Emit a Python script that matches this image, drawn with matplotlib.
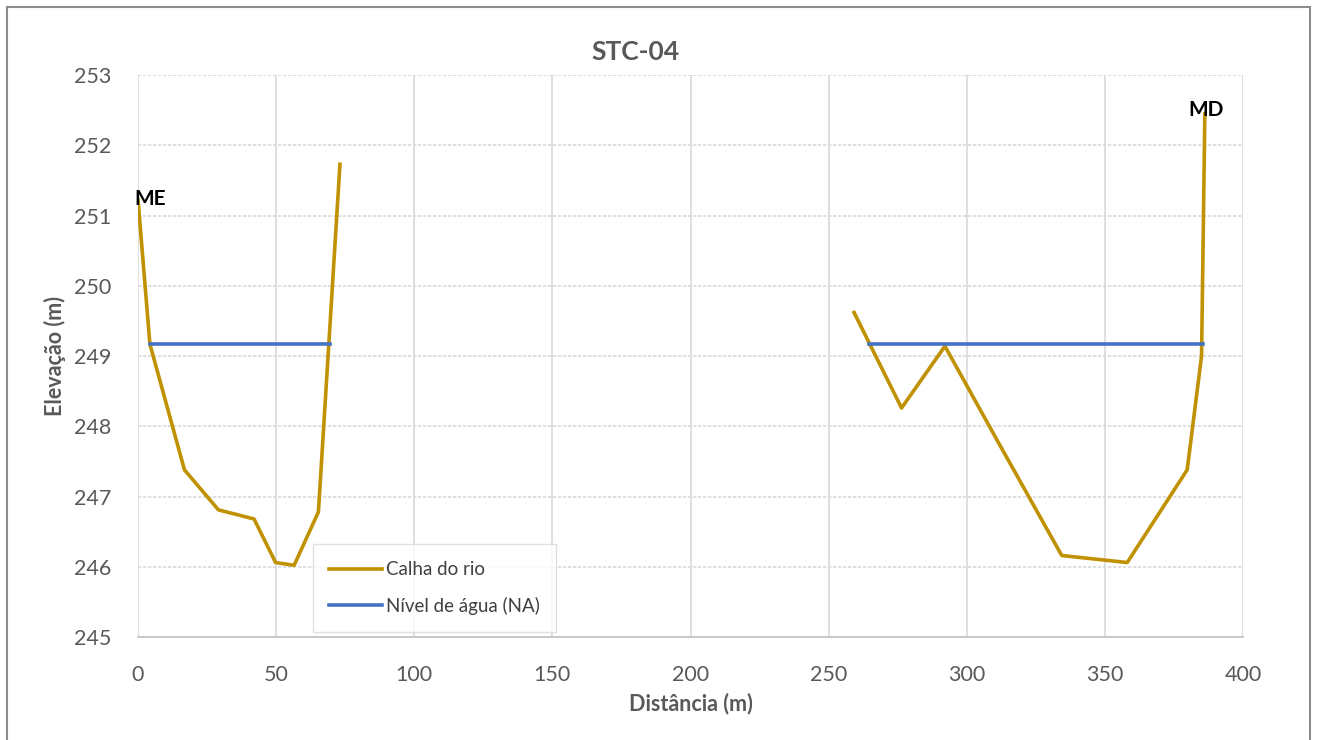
import matplotlib.pyplot as plt
from matplotlib.patches import Rectangle

# seção STC-04: margem esquerda e margem direita
dist_me = [0, 4.3, 16.8, 29.1, 42.0, 49.8, 56.5, 65.3, 73.1]
elev_me = [251.22, 249.17, 247.38, 246.81, 246.68, 246.06, 246.02, 246.78, 251.73]
dist_md = [259.2, 276.4, 292.1, 312.0, 334.4, 358.1, 379.8, 385.0, 386.2]
elev_md = [249.62, 248.26, 249.14, 247.73, 246.16, 246.06, 247.38, 249.0, 252.45]

na_level = 249.17
na_me = [4.3, 69.5]
na_md = [264.7, 385.6]

grey = '#595959'
plt.rcParams['font.family'] = ['Lato', 'DejaVu Sans']

fig = plt.figure(figsize=(13.17, 7.40), dpi=100)
ax = fig.add_axes([0.1048, 0.1392, 0.839, 0.7594])

ax.plot(dist_me, elev_me, color='#c09100', lw=2.6, label='Calha do rio', zorder=3)
ax.plot(dist_md, elev_md, color='#c09100', lw=2.6, zorder=3)
ax.plot(na_me, [na_level, na_level], color='#4472c4', lw=2.6, label='Nível de água (NA)', zorder=3)
ax.plot(na_md, [na_level, na_level], color='#4472c4', lw=2.6, zorder=3)

ax.text(-1.2, 251.24, 'ME', fontsize=15, fontweight='bold', color='black', va='center', ha='left')
ax.text(386.5, 252.5, 'MD', fontsize=15, fontweight='bold', color='black', va='center', ha='center')

ax.set_xlim(0, 400)
ax.set_ylim(245, 253)
ax.set_xticks(range(0, 401, 50))
ax.set_yticks(range(245, 254))

for x in range(0, 401, 50):
    ax.axvline(x, color='#d9d9d9', lw=1.2, zorder=1)
for y in range(246, 254):
    ax.axhline(y, color='#d9d9d9', lw=1.2, ls=(0, (2, 1)), zorder=1)

for s in ['top', 'right', 'left']:
    ax.spines[s].set_visible(False)
ax.spines['bottom'].set_color('#bfbfbf')
ax.spines['bottom'].set_linewidth(1.2)
ax.tick_params(length=0, labelsize=15.5, labelcolor=grey)
ax.tick_params(axis='x', pad=20)
ax.tick_params(axis='y', pad=19)

fig.text(635 / 1317, 1 - 52 / 740, 'STC-04', fontsize=19, fontweight='bold', color=grey,
         ha='center', va='center')
ax.set_xlabel('Distância (m)', fontsize=15.5, fontweight='bold', color=grey, labelpad=6)
ax.set_ylabel('Elevação (m)', fontsize=15.5, fontweight='bold', color=grey, labelpad=6)

leg = ax.legend(loc='lower left', bbox_to_anchor=(0.158, 0.009), borderaxespad=0,
                fontsize=13.5, frameon=True, fancybox=False, handlelength=2.8,
                borderpad=0.9, labelspacing=1.0, handletextpad=0.2)
leg.get_frame().set_edgecolor('#d9d9d9')
leg.get_frame().set_linewidth(1.0)
for t in leg.get_texts():
    t.set_color('#404040')

fig.patches.append(Rectangle((7 / 1317, -0.01), 1303 / 1317, 1 - 7 / 740 + 0.01,
                             transform=fig.transFigure, fill=False,
                             edgecolor='#8c8c8c', lw=1.5))

fig.savefig('out.png', dpi=100)
